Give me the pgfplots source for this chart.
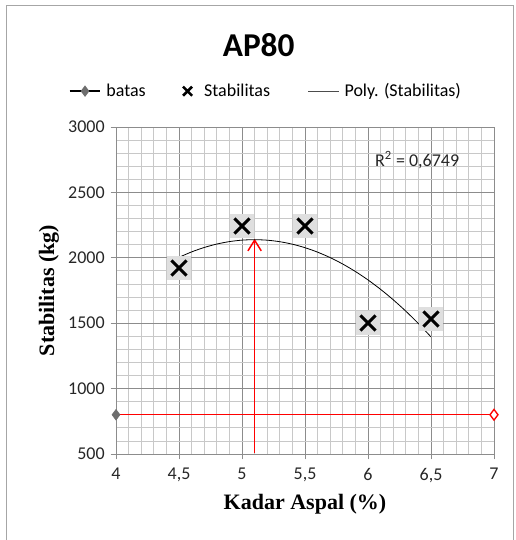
\documentclass[border=0pt]{standalone}
\usepackage{pgfplots}
\pgfplotsset{compat=1.18}
\usepackage{fontspec}
\setmainfont{Carlito}
\newfontfamily\timesfont{Liberation Serif}
\usetikzlibrary{arrows.meta}
\definecolor{majgrid}{HTML}{8C8C8C}
\definecolor{mingrid}{HTML}{C8C8C8}
\definecolor{batasgray}{HTML}{6E6E6E}
\begin{document}
\begin{tikzpicture}
\path[use as bounding box] (0,0) rectangle (387pt,405pt);
\draw[gray!70, line width=0.8pt] (5.2pt,0) -- (5.2pt,400.8pt) -- (384.8pt,400.8pt) -- (384.8pt,0);
\node[font=\fontsize{25}{28}\selectfont\bfseries] at (194pt,371pt) {AP80};
\begin{axis}[
  at={(87pt,64.5pt)}, anchor=south west,
  scale only axis, width=283.5pt, height=245.25pt,
  xmin=4, xmax=7, ymin=500, ymax=3000,
  xtick={4,4.5,...,7}, ytick={500,1000,...,3000},
  minor x tick num=4, minor y tick num=4,
  grid=both,
  major grid style={majgrid, line width=0.6pt},
  minor grid style={mingrid, line width=0.6pt},
  axis line style={majgrid, line width=0.6pt},
  axis x line*=bottom, axis y line*=left,
  tick align=outside,
  major tick length=4pt, minor tick length=0pt,
  tick style={majgrid, line width=0.6pt},
  /pgf/number format/assume math mode=true,
  /pgf/number format/use comma,
  /pgf/number format/1000 sep={},
  ticklabel style={font=\fontsize{13.5}{15}\selectfont, text=black!85},
  xticklabel style={yshift=-3pt},
  yticklabel style={xshift=-1pt},
  xlabel={\timesfont\bfseries Kadar Aspal (\%)},
  ylabel={\timesfont\bfseries Stabilitas (kg)},
  label style={font=\fontsize{16.5}{18}\selectfont},
  xlabel style={yshift=-2pt},
  ylabel style={yshift=0pt},
  legend columns=3,
  legend style={at={(0.5,1.0)}, anchor=south, yshift=17pt, xshift=-29pt, draw=none, fill=none,
    font=\fontsize{13.5}{15}\selectfont,
    /tikz/every odd column/.append style={column sep=2pt},
    /tikz/every even column/.append style={column sep=26pt}},
  legend cell align=left,
  legend image code/.code={\draw[mark repeat=2,mark phase=2] plot coordinates {(0pt,0pt) (11.5pt,0pt) (23pt,0pt)};},
  clip=false,
]
% batas
\addplot[red, line width=1.1pt, forget plot] coordinates {(4,800) (7,800)};
\addplot[only marks, mark=diamond*, mark size=4pt, batasgray, forget plot] coordinates {(4,800)};
\addplot[only marks, mark=diamond*, mark size=4pt, draw=red, fill=white, line width=1pt, forget plot] coordinates {(7,800)};
% arrow
\addplot[red, line width=1.1pt, -{Straight Barb[length=8pt,width=10pt]}, forget plot] coordinates {(5.10,510) (5.10,2145)};
% trend
\addplot[black, line width=0.6pt, smooth, forget plot] coordinates {
(4.5,2003.6) (4.6,2045.0) (4.7,2078.8) (4.8,2105.1) (4.9,2123.8) (5.0,2135.0)
(5.1,2138.6) (5.2,2134.6) (5.3,2123.1) (5.4,2104.0) (5.5,2077.4) (5.6,2043.2)
(5.7,2001.4) (5.8,1952.1) (5.9,1895.2) (6.0,1830.8) (6.1,1758.8) (6.2,1679.2)
(6.3,1592.1) (6.4,1497.4) (6.5,1395.2)};
% stabilitas shadow
\addplot[only marks, mark=square*, mark size=8.5pt, draw=gray!25, fill=gray!25, mark options={draw=gray!25, fill=gray!25}, forget plot] coordinates {
(4.5,1922) (5.0,2243) (5.5,2243) (6.0,1502) (6.5,1532)};
\addplot[only marks, mark=x, mark size=8pt, mark options={black, line width=2.2pt}, forget plot] coordinates {
(4.5,1922) (5.0,2243) (5.5,2243) (6.0,1502) (6.5,1532)};
\node[font=\fontsize{13.5}{15}\selectfont, text=black!85] at (axis cs:6.39,2748) {R\textsuperscript{2} = 0,6749};
% legend
\addlegendimage{black, line width=1pt, mark=diamond*, mark size=3.5pt, mark options={batasgray}}
\addlegendentry{batas}
\addlegendimage{only marks, mark=x, mark size=4.8pt, mark options={black, line width=1.9pt}}
\addlegendentry{\hspace{5pt}Stabilitas}
\addlegendimage{black!70, line width=0.8pt}
\addlegendentry{Poly. (Stabilitas)}
\end{axis}
\end{tikzpicture}
\end{document}
